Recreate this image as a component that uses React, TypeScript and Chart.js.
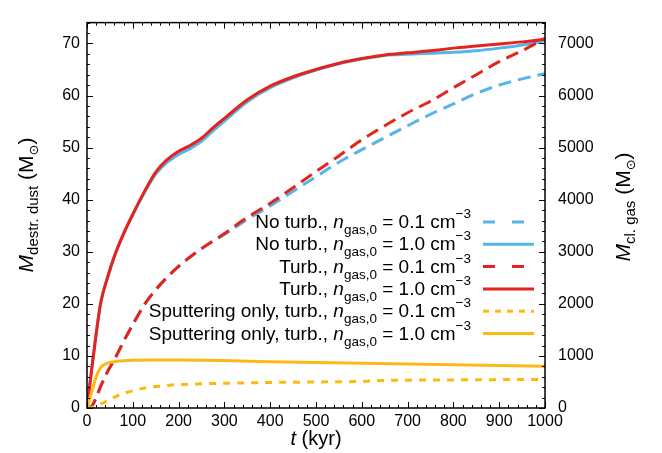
import React, { useEffect, useRef } from 'react';
import { Chart, registerables } from 'chart.js';

Chart.register(...registerables);

const FONT = '"Liberation Sans", Arial, Helvetica, "DejaVu Sans", sans-serif';

// ---- data ----
// time (kyr)
const tSolid = [0, 5, 10, 20, 30, 45, 60, 80, 100, 125, 150, 175, 200, 225, 250, 275, 300, 350, 400, 450, 500, 550, 600, 650, 700, 750, 800, 850, 900, 950, 1000];
// destroyed dust mass (M_sun), left axis
const noTurb10 = [0, 3.6, 7.3, 14.2, 20.2, 25.1, 29.2, 33.5, 37.1, 41.3, 44.9, 47.2, 48.7, 49.8, 51.2, 53.2, 55.1, 58.8, 61.5, 63.4, 64.9, 66.1, 67.0, 67.7, 67.9, 68.1, 68.3, 68.6, 69.1, 69.7, 70.5];
const turb10 = [0, 3.6, 7.3, 14.2, 20.2, 25.1, 29.2, 33.5, 37.2, 41.5, 45.3, 47.7, 49.3, 50.4, 51.8, 53.8, 55.6, 59.2, 61.8, 63.6, 65.0, 66.2, 67.1, 67.8, 68.2, 68.6, 69.1, 69.5, 69.9, 70.3, 70.8];

const tDashed = [0, 10, 20, 30, 45, 60, 80, 100, 125, 150, 175, 200, 250, 300, 350, 400, 450, 500, 550, 600, 650, 700, 750, 800, 850, 900, 950, 1000];
// cloud gas mass (M_sun), right axis
const noTurb01 = [0, 30, 200, 420, 700, 930, 1280, 1600, 1980, 2270, 2510, 2720, 3060, 3330, 3620, 3880, 4160, 4440, 4720, 4960, 5190, 5420, 5640, 5840, 6040, 6200, 6320, 6420];
const turb01 = [0, 30, 200, 420, 700, 930, 1280, 1600, 1980, 2270, 2510, 2720, 3060, 3350, 3660, 3930, 4230, 4540, 4840, 5150, 5420, 5670, 5890, 6150, 6400, 6650, 6860, 7100];

const tSput = [0, 5, 10, 20, 30, 45, 60, 80, 100, 150, 200, 300, 400, 500, 600, 700, 800, 900, 1000];
const sput10 = [0, 1.5, 3.0, 6.0, 7.8, 8.6, 8.9, 9.05, 9.15, 9.2, 9.2, 9.1, 8.9, 8.75, 8.6, 8.45, 8.3, 8.15, 8.0];
const tSputD = [0, 10, 20, 40, 60, 80, 100, 130, 160, 200, 250, 300, 400, 500, 600, 650, 700, 800, 900, 1000];
const sput01 = [0, 10, 40, 120, 210, 280, 330, 390, 420, 450, 465, 475, 490, 500, 510, 530, 535, 540, 545, 550];

const legendPrefix = ['No turb.', 'No turb.', 'Turb.', 'Turb.', 'Sputtering only, turb.', 'Sputtering only, turb.'];
const legendDensity = ['0.1', '1.0', '0.1', '1.0', '0.1', '1.0'];

const xTicks = [0, 100, 200, 300, 400, 500, 600, 700, 800, 900, 1000];
const yLeftTicks = [0, 10, 20, 30, 40, 50, 60, 70];
const yRightTicks = [0, 1000, 2000, 3000, 4000, 5000, 6000, 7000];

const BLUE = '#56b4e9';
const RED = '#e5231b';
const YELLOW = '#fdb913';

type Seg = { t: string; size: number; italic?: boolean; dy?: number };

function setFont(ctx: CanvasRenderingContext2D, s: Seg) {
  ctx.font = `${s.italic ? 'italic ' : ''}${s.size}px ${FONT}`;
}
function segsWidth(ctx: CanvasRenderingContext2D, segs: Seg[]) {
  let w = 0;
  for (const s of segs) {
    setFont(ctx, s);
    w += ctx.measureText(s.t).width;
  }
  return w;
}
function drawSegs(ctx: CanvasRenderingContext2D, segs: Seg[], x: number, y: number) {
  let cx = x;
  ctx.textAlign = 'left';
  ctx.textBaseline = 'alphabetic';
  for (const s of segs) {
    setFont(ctx, s);
    ctx.fillText(s.t, cx, y + (s.dy || 0));
    cx += ctx.measureText(s.t).width;
  }
}

const pts = (xs: number[], ys: number[]) => xs.map((x, i) => ({ x, y: ys[i] }));

const framePlugin = {
  id: 'framePlugin',
  afterDraw(chart: any) {
    const ctx: CanvasRenderingContext2D = chart.ctx;
    const { left, right, top, bottom } = chart.chartArea;
    const xs = chart.scales.x;
    const yl = chart.scales.y;
    const yr = chart.scales.y2;
    ctx.save();
    ctx.strokeStyle = '#000';
    ctx.lineWidth = 1;
    // x ticks (bottom & top)
    for (let v = 0; v <= 1000; v += 20) {
      const px = Math.round(xs.getPixelForValue(v)) + 0.5;
      const len = v % 100 === 0 ? 6 : 3;
      ctx.beginPath();
      ctx.moveTo(px, bottom);
      ctx.lineTo(px, bottom - len);
      ctx.moveTo(px, top);
      ctx.lineTo(px, top + len);
      ctx.stroke();
    }
    for (let v = 0; v <= 74; v += 2) {
      const py = Math.round(yl.getPixelForValue(v)) + 0.5;
      const len = v % 10 === 0 ? 6 : 3;
      ctx.beginPath();
      ctx.moveTo(left, py);
      ctx.lineTo(left + len, py);
      ctx.stroke();
    }
    for (let v = 0; v <= 7400; v += 200) {
      const py = Math.round(yr.getPixelForValue(v)) + 0.5;
      const len = v % 1000 === 0 ? 6 : 3;
      ctx.beginPath();
      ctx.moveTo(right, py);
      ctx.lineTo(right - len, py);
      ctx.stroke();
    }
    ctx.lineWidth = 1.5;
    ctx.strokeRect(left, top, right - left, bottom - top);

    // axis titles
    ctx.fillStyle = '#000';
    const leftTitle: Seg[] = [
      { t: 'M', size: 21, italic: true },
      { t: 'destr. dust', size: 15, dy: 5 },
      { t: ' (M', size: 21 },
      { t: '\u2299', size: 13, dy: 5 },
      { t: ')', size: 21 },
    ];
    ctx.save();
    ctx.translate(33, 205);
    ctx.rotate(-Math.PI / 2);
    drawSegs(ctx, leftTitle, -segsWidth(ctx, leftTitle) / 2, 0);
    ctx.restore();

    const rightTitle: Seg[] = [
      { t: 'M', size: 21, italic: true },
      { t: 'cl. gas', size: 15, dy: 5 },
      { t: ' (M', size: 21 },
      { t: '\u2299', size: 13, dy: 5 },
      { t: ')', size: 21 },
    ];
    ctx.save();
    ctx.translate(630, 207);
    ctx.rotate(-Math.PI / 2);
    drawSegs(ctx, rightTitle, -segsWidth(ctx, rightTitle) / 2, 0);
    ctx.restore();

    const xTitle: Seg[] = [
      { t: 't', size: 20, italic: true },
      { t: ' (kyr)', size: 20 },
    ];
    drawSegs(ctx, xTitle, 316 - segsWidth(ctx, xTitle) / 2, 445);

    // legend
    const ds = chart.data.datasets;
    for (let i = 0; i < ds.length; i++) {
      const rowY = 222 + i * 22.3;
      const segs: Seg[] = [
        { t: legendPrefix[i] + ', ', size: 19 },
        { t: 'n', size: 19, italic: true },
        { t: 'gas,0', size: 13.5, dy: 6 },
        { t: ' = ' + legendDensity[i] + ' cm', size: 19 },
        { t: '\u22123', size: 13.5, dy: -10 },
      ];
      const w = segsWidth(ctx, segs);
      drawSegs(ctx, segs, 471 - w, rowY + 6);
      ctx.save();
      ctx.strokeStyle = ds[i].borderColor;
      ctx.lineWidth = ds[i].borderWidth;
      ctx.setLineDash(ds[i].legendDash || []);
      ctx.beginPath();
      ctx.moveTo(483, rowY);
      ctx.lineTo(534, rowY);
      ctx.stroke();
      ctx.restore();
    }
    ctx.restore();
  },
};

export default function App() {
  const ref = useRef<HTMLCanvasElement | null>(null);
  useEffect(() => {
    if (!ref.current) return;
    const tickFont = { family: FONT, size: 16 };
    const plain = (v: any) => String(v);
    const chart = new Chart(ref.current, {
      type: 'line',
      data: {
        datasets: [
          { label: 'No turb. 0.1', data: pts(tDashed, noTurb01), yAxisID: 'y2', borderColor: BLUE, borderWidth: 3, borderDash: [13, 7], legendDash: [12, 17], order: 3 } as any,
          { label: 'No turb. 1.0', data: pts(tSolid, noTurb10), yAxisID: 'y', borderColor: BLUE, borderWidth: 3, order: 4 } as any,
          { label: 'Turb. 0.1', data: pts(tDashed, turb01), yAxisID: 'y2', borderColor: RED, borderWidth: 3, borderDash: [13, 7], legendDash: [12, 17], order: 1 } as any,
          { label: 'Turb. 1.0', data: pts(tSolid, turb10), yAxisID: 'y', borderColor: RED, borderWidth: 3, order: 2 } as any,
          { label: 'Sput. 0.1', data: pts(tSputD, sput01), yAxisID: 'y2', borderColor: YELLOW, borderWidth: 3, borderDash: [7, 7], legendDash: [6, 6], order: 0 } as any,
          { label: 'Sput. 1.0', data: pts(tSput, sput10), yAxisID: 'y', borderColor: YELLOW, borderWidth: 3, order: 0 } as any,
        ],
      },
      options: {
        responsive: false,
        devicePixelRatio: 1,
        animation: false,
        layout: { padding: { top: 7, left: 0, right: 0, bottom: 0 } },
        elements: {
          point: { radius: 0 },
          line: { cubicInterpolationMode: 'monotone', borderCapStyle: 'butt', fill: false },
        },
        plugins: { legend: { display: false }, tooltip: { enabled: false } },
        scales: {
          x: {
            type: 'linear',
            min: 0,
            max: 1000,
            afterFit: (s: any) => { s.height = 45; },
            afterBuildTicks: (s: any) => { s.ticks = xTicks.map((v) => ({ value: v })); },
            ticks: { font: tickFont, color: '#000', padding: 4, maxRotation: 0, autoSkip: false, callback: plain },
            grid: { display: false, drawTicks: false },
            border: { display: false },
          },
          y: {
            type: 'linear',
            position: 'left',
            min: 0,
            max: 74,
            afterFit: (s: any) => { s.width = 87; },
            afterBuildTicks: (s: any) => { s.ticks = yLeftTicks.map((v) => ({ value: v })); },
            ticks: { font: tickFont, color: '#000', padding: 7, autoSkip: false, callback: plain },
            grid: { display: false, drawTicks: false },
            border: { display: false },
          },
          y2: {
            type: 'linear',
            position: 'right',
            min: 0,
            max: 7400,
            afterFit: (s: any) => { s.width = 117; },
            afterBuildTicks: (s: any) => { s.ticks = yRightTicks.map((v) => ({ value: v })); },
            ticks: { font: tickFont, color: '#000', padding: 13, autoSkip: false, callback: plain },
            grid: { display: false, drawTicks: false },
            border: { display: false },
          },
        },
      } as any,
      plugins: [framePlugin],
    });
    return () => chart.destroy();
  }, []);
  return (
    <div style={{ position: 'absolute', left: 0, top: 0, width: 662, height: 453, background: '#fff' }}>
      <canvas ref={ref} width={662} height={453} />
    </div>
  );
}
